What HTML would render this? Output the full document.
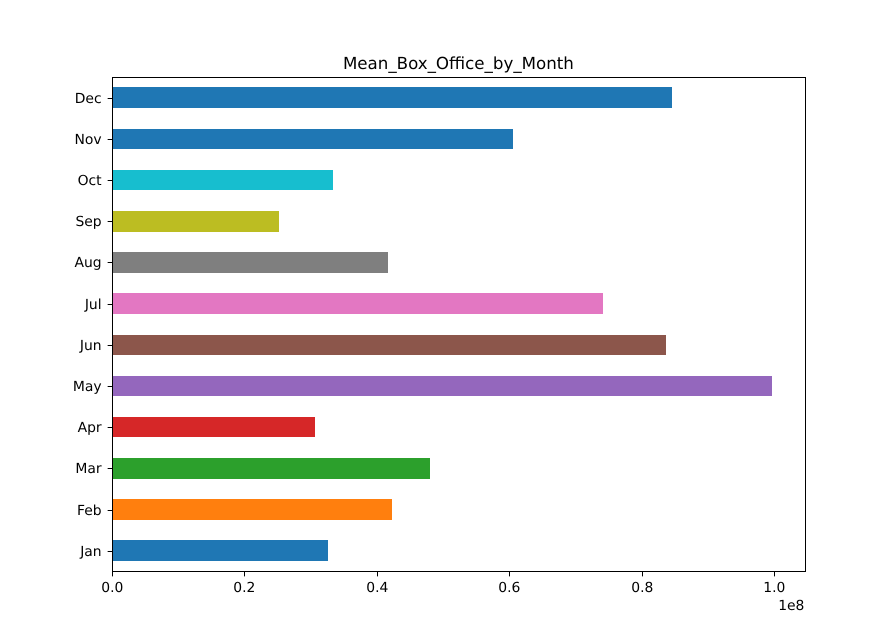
<!DOCTYPE html>
<html>
<head>
<meta charset="utf-8">
<title>Mean_Box_Office_by_Month</title>
<style>
html,body{margin:0;padding:0;background:#fff;width:894px;height:642px;overflow:hidden}
svg{display:block}
text{font-family:"DejaVu Sans","Liberation Sans",sans-serif;fill:#000;text-rendering:geometricPrecision}
</style>
</head>
<body>
<svg id="chart" xmlns="http://www.w3.org/2000/svg" width="894" height="642" viewBox="0 0 894 642"></svg>
<script>
const categories = ['Jan','Feb','Mar','Apr','May','Jun','Jul','Aug','Sep','Oct','Nov','Dec'];
const meanBoxOffice = [32600000,42300000,48000000,30700000,99700000,83700000,74200000,41700000,25200000,33400000,60600000,84600000];
const barColors = ['#1f77b4','#ff7f0e','#2ca02c','#d62728','#9467bd','#8c564b','#e377c2','#7f7f7f','#bcbd22','#17becf','#1f77b4','#1f77b4'];
const xTicks = [0,20000000,40000000,60000000,80000000,100000000];
const xTickLabels = ['0.0','0.2','0.4','0.6','0.8','1.0'];
const chartTitle = 'Mean_Box_Office_by_Month';
const offsetLabel = '1e8';

const svg = document.getElementById('chart');
const NS = 'http://www.w3.org/2000/svg';
const plot = {left:111.75, right:805.2, top:77.04, bottom:571.38};
const xMax = (plot.right - plot.left) / 662.5 * 1e8;
const xScale = v => plot.left + v / xMax * (plot.right - plot.left);
const yScale = i => plot.bottom - (i + 0.5) / categories.length * (plot.bottom - plot.top);
const barHeight = 0.5 * (plot.bottom - plot.top) / categories.length;
const snap = v => Math.round(v);
const snapLine = v => Math.round(v) + 0.5;
const tickLength = 4.86;

function make(tag, attrs, text) {
  const el = document.createElementNS(NS, tag);
  for (const k in attrs) el.setAttribute(k, attrs[k]);
  if (text !== undefined) el.textContent = text;
  svg.appendChild(el);
  return el;
}

const frameLeft = snapLine(plot.left);
const frameRight = snapLine(plot.right);
const frameTop = snapLine(plot.top);
const frameBottom = snapLine(plot.bottom);

categories.forEach((c, i) => {
  const cy = yScale(i);
  const top = snap(cy - barHeight / 2);
  const bottom = snap(cy + barHeight / 2);
  const x0 = snap(xScale(0));
  const x1 = snap(xScale(meanBoxOffice[i]));
  const bar = make('rect', {x:x0, y:top, width:x1-x0, height:bottom-top, fill:barColors[i], 'shape-rendering':'crispEdges'});
  
  

  const ty = snapLine(cy);
  const tick = make('line', {x1:frameLeft-tickLength, x2:frameLeft, y1:ty, y2:ty, stroke:'#000', 'stroke-width':1});
  
  

  const label = make('text', {x:101.6, y:ty+4.6, 'text-anchor':'end', 'font-size':13.89}, c);
  
  
});

xTicks.forEach((v, i) => {
  const x = snapLine(xScale(v));
  const tick = make('line', {x1:x, x2:x, y1:frameBottom, y2:frameBottom+tickLength, stroke:'#000', 'stroke-width':1});
  
  

  const label = make('text', {x:x-0.2, y:592, 'text-anchor':'middle', 'font-size':13.89}, xTickLabels[i]);
  
  
});

const frame = make('rect', {x:frameLeft, y:frameTop, width:frameRight-frameLeft, height:frameBottom-frameTop, fill:'none', stroke:'#000', 'stroke-width':1, 'shape-rendering':'crispEdges'});



const title = make('text', {x:458.4, y:69, 'text-anchor':'middle', 'font-size':16.67}, chartTitle);



const offset = make('text', {x:804.4, y:610, 'text-anchor':'end', 'font-size':13.89}, offsetLabel);


</script>
</body>
</html>
